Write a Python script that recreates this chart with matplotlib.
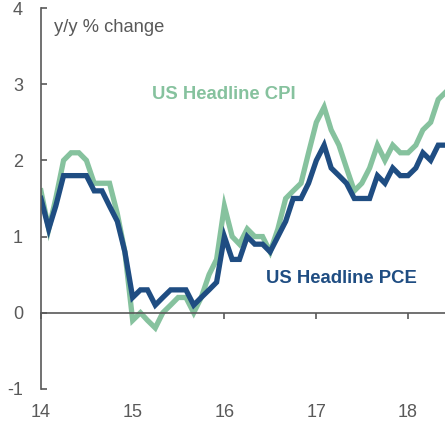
import matplotlib.pyplot as plt
import matplotlib.dates as mdates
import pandas as pd

plt.rcParams["font.family"] = ["Liberation Sans", "DejaVu Sans"]
plt.rcParams["axes.unicode_minus"] = False

# monthly y/y % change, Jan 2014 - Jun 2018
months = pd.date_range("2014-01-01", periods=54, freq="MS")
cpi = [
    1.6, 1.1, 1.5, 2.0, 2.1, 2.1, 2.0, 1.7, 1.7, 1.7, 1.3, 0.8,
    -0.1, 0.0, -0.1, -0.2, 0.0, 0.1, 0.2, 0.2, 0.0, 0.2, 0.5, 0.7,
    1.4, 1.0, 0.9, 1.1, 1.0, 1.0, 0.8, 1.1, 1.5, 1.6, 1.7, 2.1,
    2.5, 2.7, 2.4, 2.2, 1.9, 1.6, 1.7, 1.9, 2.2, 2.0, 2.2, 2.1,
    2.1, 2.2, 2.4, 2.5, 2.8, 2.9,
]
pce = [
    1.5, 1.1, 1.4, 1.8, 1.8, 1.8, 1.8, 1.6, 1.6, 1.4, 1.2, 0.8,
    0.2, 0.3, 0.3, 0.1, 0.2, 0.3, 0.3, 0.3, 0.1, 0.2, 0.3, 0.4,
    1.0, 0.7, 0.7, 1.0, 0.9, 0.9, 0.8, 1.0, 1.2, 1.5, 1.5, 1.7,
    2.0, 2.2, 1.9, 1.8, 1.7, 1.5, 1.5, 1.5, 1.8, 1.7, 1.9, 1.8,
    1.8, 1.9, 2.1, 2.0, 2.2, 2.2,
]
yticks = [-1, 0, 1, 2, 3, 4]

green = "#86c29e"
navy = "#1f4d82"
grey = "#595959"


def main():
    fig = plt.figure(figsize=(4.45, 4.25), dpi=100)
    ax = fig.add_axes([0.092, 0.085, 0.908, 0.896])

    ax.plot(months, cpi, color=green, lw=3.8, solid_joinstyle="miter")
    ax.plot(months, pce, color=navy, lw=3.8, solid_joinstyle="miter")

    ax.set_ylim(-1, 4)
    ax.set_xlim(pd.Timestamp("2014-01-01"), pd.Timestamp("2018-05-28"))
    ax.set_yticks(yticks)

    for side in ["top", "right"]:
        ax.spines[side].set_visible(False)
    ax.spines["left"].set_color(grey)
    ax.spines["left"].set_linewidth(1.2)
    ax.spines["bottom"].set_position(("data", 0))
    ax.spines["bottom"].set_color(grey)
    ax.spines["bottom"].set_linewidth(1.2)

    ax.tick_params(axis="y", direction="in", length=4, width=1.2, color=grey,
                   labelcolor=grey, labelsize=13, pad=13)
    ax.tick_params(axis="x", direction="out", length=4, width=1.2, color=grey,
                   labelbottom=False)
    ax.xaxis.set_major_locator(mdates.YearLocator())

    # year labels sit under the plot, not on the zero line
    sec = ax.secondary_xaxis("bottom")
    sec.spines["bottom"].set_visible(False)
    sec.xaxis.set_major_locator(mdates.YearLocator())
    sec.xaxis.set_major_formatter(mdates.DateFormatter("%y"))
    sec.tick_params(length=0, pad=11, labelcolor=grey, labelsize=13)

    ax.text(pd.Timestamp("2014-02-22"), 3.74, "y/y % change", color=grey,
            fontsize=13.2, va="center")
    ax.text(pd.Timestamp("2015-03-20"), 2.86, "US Headline CPI", color=green,
            fontsize=13.3, fontweight="bold", va="center")
    ax.text(pd.Timestamp("2016-06-16"), 0.45, "US Headline PCE", color=navy,
            fontsize=13.3, fontweight="bold", va="center")

    fig.savefig("out.png", dpi=100)


if __name__ == "__main__":
    main()
